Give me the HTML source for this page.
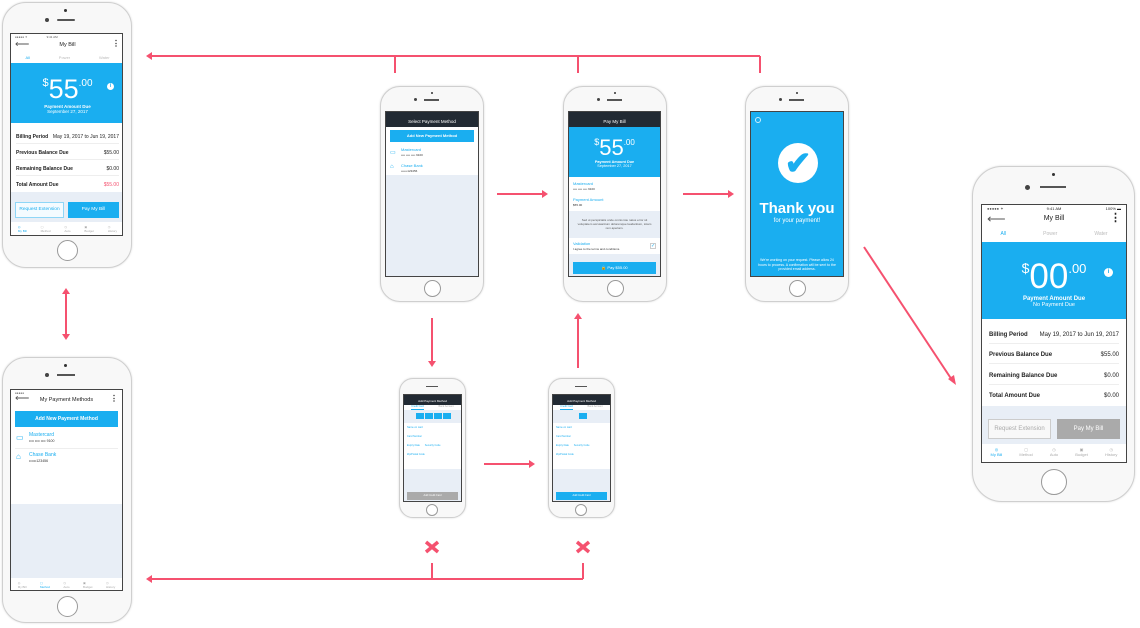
<!DOCTYPE html>
<html><head><meta charset="utf-8"><style>
*{margin:0;padding:0;box-sizing:border-box}
body{width:1140px;height:628px;background:#fff;position:relative;overflow:hidden;font-family:"Liberation Sans",sans-serif;color:#222}
.ph{position:absolute;border:1px solid #cfcfcf;background:#f8f8f8;box-shadow:0 0 2px rgba(0,0,0,.15)}
.sc{position:absolute;background:#fff;border:1px solid #444;overflow:hidden}
.hb{position:absolute;border:1px solid #999;border-radius:50%;background:#fff}
.abs{position:absolute}
.blue{background:#1aaef0}
.b{font-weight:bold}
.row{position:absolute;left:5px;right:5px;display:flex;justify-content:space-between;font-size:5px;border-bottom:1px solid #eee;padding-bottom:3px}
</style></head><body>

<svg class="abs" style="left:0;top:0" width="1140" height="628">
<g stroke="#f5516f" stroke-width="2" fill="none">
<path d="M150 56H760M395 56V73M578 56V73M760 56V73"/>
<path d="M66 292V336"/>
<path d="M497 194H543M683 194H729"/>
<path d="M432 318V363M578 368V318"/>
<path d="M484 464H530"/>
<path d="M150 579H583M432 563V579M583 563V579"/>
<path d="M864 247L952 380"/>
<path d="M426 542L438 552M438 542L426 552M577 542L589 552M589 542L577 552" stroke-width="3.5"/>
</g>
<g fill="#f5516f">
<path d="M146 56L152 52V60Z"/><path d="M146 579L152 575V583Z"/>
<path d="M66 288L62 294H70Z"/><path d="M66 340L62 334H70Z"/>
<path d="M548 194L542 190V198Z"/><path d="M734 194L728 190V198Z"/>
<path d="M432 367L428 361H436Z"/><path d="M578 313L574 319H582Z"/>
<path d="M535 464L529 460V468Z"/>
<path d="M956 385L948 379L954 375Z"/>
</g>
</svg>

<!-- Phone 1 top-left -->
<div class="ph" style="left:2px;top:2px;width:130px;height:266px;border-radius:24px"></div>
<div class="abs" style="left:64px;top:9px;width:3px;height:3px;border-radius:50%;background:#333"></div>
<div class="abs" style="left:45px;top:18px;width:4px;height:4px;border-radius:50%;background:#444"></div>
<div class="abs" style="left:57px;top:19px;width:18px;height:2px;background:#555;border-radius:1px"></div>
<div class="sc" style="left:10px;top:33px;width:113px;height:203px">
 <div class="abs" style="left:0;top:0;width:113px;height:203px">
  <div class="abs" style="left:4px;top:1px;font-size:3px;color:#555">●●●●● ✦ &nbsp;&nbsp;&nbsp;&nbsp;&nbsp;&nbsp;&nbsp;&nbsp;&nbsp;&nbsp;&nbsp;&nbsp;&nbsp;&nbsp;&nbsp;&nbsp;&nbsp;&nbsp;&nbsp;&nbsp;&nbsp; 9:41 AM</div>
  <div class="abs" style="left:4px;top:5px;font-size:10px;color:#555">⟵</div>
  <div class="abs" style="left:0;right:0;top:8px;text-align:center;font-size:5.5px">My Bill</div>
  <div class="abs" style="right:4px;top:5px;font-size:8px;font-weight:bold">⋮</div>
  <div class="abs" style="left:0;right:0;top:21px;display:flex;justify-content:space-around;font-size:4px;color:#bbb"><span style="color:#1aaef0">All</span><span>Power</span><span>Water</span></div>
  <div class="abs blue" style="left:0;right:0;top:29px;height:60px;color:#fff;text-align:center">
   <div style="font-size:27px;line-height:30px;margin-top:5px"><span style="font-size:11px;vertical-align:12px">$</span>55<span style="font-size:10px;vertical-align:12px">.00</span></div>
   <div style="font-size:4.5px;font-weight:bold">Payment Amount Due</div>
   <div style="font-size:4.5px">September 27, 2017</div>
   <div class="abs" style="right:10px;top:20px;width:7px;height:7px;border-radius:50%;background:#fff;color:#1aaef0;font-size:5px;line-height:7px;font-weight:bold">i</div>
  </div>
  <div class="row b" style="top:100px"><span>Billing Period</span><span style="font-weight:normal">May 19, 2017 to Jun 19, 2017</span></div>
  <div class="row b" style="top:116px"><span>Previous Balance Due</span><span style="font-weight:normal">$55.00</span></div>
  <div class="row b" style="top:132px"><span>Remaining Balance Due</span><span style="font-weight:normal">$0.00</span></div>
  <div class="row b" style="top:148px;border:0"><span>Total Amount Due</span><span style="font-weight:normal;color:#f5516f">$55.00</span></div>
  <div class="abs" style="left:0;right:0;top:158px;height:30px;background:#e8eef6"></div>
  <div class="abs" style="left:4px;top:168px;width:49px;height:16px;border:1px solid #8fd6f7;background:#f4fbff;color:#1aaef0;font-size:4.8px;text-align:center;line-height:14px">Request Extension</div>
  <div class="abs blue" style="left:57px;top:168px;width:51px;height:16px;color:#fff;font-size:4.8px;text-align:center;line-height:16px">Pay My Bill</div>
  <div class="abs" style="left:0;right:0;top:188px;height:15px;display:flex;justify-content:space-around;font-size:3px;color:#aaa;padding-top:3px"><span style="color:#1aaef0">◎<br>My Bill</span><span>▢<br>Method</span><span>◷<br>Auto</span><span>▣<br>Budget</span><span>◷<br>History</span></div>
 </div>
</div>
<div class="hb" style="left:57px;top:240px;width:21px;height:21px"></div>

<!-- Phone 2 bottom-left -->
<div class="ph" style="left:2px;top:357px;width:130px;height:266px;border-radius:24px"></div>
<div class="abs" style="left:64px;top:364px;width:3px;height:3px;border-radius:50%;background:#333"></div>
<div class="abs" style="left:45px;top:373px;width:4px;height:4px;border-radius:50%;background:#444"></div>
<div class="abs" style="left:57px;top:374px;width:18px;height:2px;background:#555"></div>
<div class="sc" style="left:10px;top:389px;width:113px;height:202px;background:#e8eef6">
  <div class="abs" style="left:0;right:0;top:0;height:14px;background:#fff"></div>
  <div class="abs" style="left:4px;top:1px;font-size:3px;color:#555">●●●●●</div>
  <div class="abs" style="left:4px;top:3px;font-size:10px;color:#555">⟵</div>
  <div class="abs" style="left:0;right:0;top:7px;text-align:center;font-size:5.5px">My Payment Methods</div>
  <div class="abs" style="right:4px;top:4px;font-size:8px;font-weight:bold">⋮</div>
  <div class="abs" style="left:0;right:0;top:14px;height:100px;background:#fff"></div>
  <div class="abs blue" style="left:4px;right:4px;top:21px;height:16px;color:#fff;font-size:5px;font-weight:bold;text-align:center;line-height:16px">Add New Payment Method</div>
  <div class="abs" style="left:5px;top:43px;font-size:8px;color:#1aaef0">▭</div>
  <div class="abs" style="left:18px;top:42px;font-size:5px;color:#1aaef0">Mastercard<br><span style="color:#333;font-size:3.5px">•••• •••• •••• 9100</span></div>
  <div class="abs" style="left:4px;right:4px;top:58px;height:1px;background:#eee"></div>
  <div class="abs" style="left:5px;top:62px;font-size:8px;color:#1aaef0">⌂</div>
  <div class="abs" style="left:18px;top:62px;font-size:5px;color:#1aaef0">Chase Bank<br><span style="color:#333;font-size:3.5px">••••••123456</span></div>
  <div class="abs" style="left:0;right:0;top:188px;height:14px;background:#fff;display:flex;justify-content:space-around;font-size:3px;color:#aaa;padding-top:3px"><span>◎<br>My Bill</span><span style="color:#1aaef0">▢<br>Method</span><span>◷<br>Auto</span><span>▣<br>Budget</span><span>◷<br>History</span></div>
</div>
<div class="hb" style="left:57px;top:596px;width:21px;height:21px"></div>

<!-- Phone select payment -->
<div class="ph" style="left:380px;top:86px;width:104px;height:216px;border-radius:20px"></div>
<div class="abs" style="left:431px;top:92px;width:2px;height:2px;border-radius:50%;background:#333"></div>
<div class="abs" style="left:414px;top:98px;width:3px;height:3px;border-radius:50%;background:#444"></div>
<div class="abs" style="left:424px;top:99px;width:15px;height:2px;background:#555"></div>
<div class="sc" style="left:385px;top:111px;width:94px;height:166px;background:#e8eef6">
  <div class="abs" style="left:0;right:0;top:0;height:15px;background:#222a33;color:#fff;font-size:4.5px;text-align:center;line-height:20px">Select Payment Method</div>
  <div class="abs" style="left:0;right:0;top:15px;height:48px;background:#fff"></div>
  <div class="abs blue" style="left:4px;right:4px;top:18px;height:12px;color:#fff;font-size:4px;font-weight:bold;text-align:center;line-height:12px">Add New Payment Method</div>
  <div class="abs" style="left:4px;top:37px;font-size:6px;color:#1aaef0">▭</div>
  <div class="abs" style="left:15px;top:35px;font-size:4px;color:#1aaef0">Mastercard<br><span style="color:#333;font-size:3px">•••• •••• •••• 9100</span></div>
  <div class="abs" style="left:4px;top:52px;font-size:6px;color:#1aaef0">⌂</div>
  <div class="abs" style="left:15px;top:51px;font-size:4px;color:#1aaef0">Chase Bank<br><span style="color:#333;font-size:3px">••••••123456</span></div>
</div>
<div class="hb" style="left:424px;top:280px;width:17px;height:17px"></div>

<!-- Phone pay my bill -->
<div class="ph" style="left:563px;top:86px;width:104px;height:216px;border-radius:20px"></div>
<div class="abs" style="left:614px;top:92px;width:2px;height:2px;border-radius:50%;background:#333"></div>
<div class="abs" style="left:597px;top:98px;width:3px;height:3px;border-radius:50%;background:#444"></div>
<div class="abs" style="left:607px;top:99px;width:15px;height:2px;background:#555"></div>
<div class="sc" style="left:568px;top:111px;width:93px;height:166px">
  <div class="abs" style="left:0;right:0;top:0;height:15px;background:#222a33;color:#fff;font-size:4.5px;text-align:center;line-height:20px">Pay My Bill</div>
  <div class="abs blue" style="left:0;right:0;top:15px;height:50px;color:#fff;text-align:center">
   <div style="font-size:22px;line-height:24px;margin-top:3px"><span style="font-size:9px;vertical-align:10px">$</span>55<span style="font-size:8px;vertical-align:10px">.00</span></div>
   <div style="font-size:3.8px;font-weight:bold">Payment Amount Due</div><div style="font-size:3.8px">September 27, 2017</div>
  </div>
  <div class="abs" style="left:4px;top:69px;font-size:4px;color:#1aaef0;line-height:5px">Mastercard<br><span style="color:#333;font-size:3px">•••• •••• •••• 9100</span></div>
  <div class="abs" style="left:4px;top:85px;font-size:4px;color:#1aaef0;line-height:5px">Payment Amount<br><span style="color:#333;font-size:3px">$55.00</span></div>
  <div class="abs" style="left:0;right:0;top:99px;height:27px;background:#e8eef6;font-size:3px;color:#555;text-align:center;padding:7px 6px 0">Sed ut perspiciatis unde omnis iste natus error sit voluptatem accusantium doloremque laudantium, totam rem aperiam.</div>
  <div class="abs" style="left:4px;top:129px;font-size:4px;color:#1aaef0;line-height:5px">Validation<br><span style="color:#333;font-size:3px">I agree to the terms and conditions.</span></div>
  <div class="abs" style="right:4px;top:131px;width:6px;height:6px;border:1px solid #ccc;color:#1aaef0;font-size:5px;line-height:5px">✓</div>
  <div class="abs" style="left:0;right:0;top:142px;height:24px;background:#e8eef6"></div>
  <div class="abs blue" style="left:4px;right:4px;top:150px;height:12px;color:#fff;font-size:4px;text-align:center;line-height:12px">🔒 Pay $55.00</div>
</div>
<div class="hb" style="left:607px;top:280px;width:17px;height:17px"></div>

<!-- Phone thank you -->
<div class="ph" style="left:745px;top:86px;width:104px;height:216px;border-radius:20px"></div>
<div class="abs" style="left:796px;top:92px;width:2px;height:2px;border-radius:50%;background:#333"></div>
<div class="abs" style="left:779px;top:98px;width:3px;height:3px;border-radius:50%;background:#444"></div>
<div class="abs" style="left:789px;top:99px;width:15px;height:2px;background:#555"></div>
<div class="sc blue" style="left:750px;top:111px;width:94px;height:166px;color:#fff;text-align:center">
  <div class="abs" style="left:4px;top:5px;width:6px;height:6px;border:1px solid #cdeefc;border-radius:50%"></div>
  <div class="abs" style="left:27px;top:31px;width:40px;height:40px;border-radius:50%;background:#fff;color:#1aaef0;font-size:32px;line-height:40px;font-weight:bold">✔</div>
  <div class="abs" style="left:0;right:0;top:88px;font-size:15px;font-weight:bold">Thank you</div>
  <div class="abs" style="left:0;right:0;top:106px;font-size:6px">for your payment!</div>
  <div class="abs" style="left:6px;right:6px;top:146px;font-size:3.5px;line-height:4.5px">We're working on your request. Please allow 24 hours to process. A confirmation will be sent to the provided email address.</div>
</div>
<div class="hb" style="left:789px;top:280px;width:17px;height:17px"></div>

<!-- Small phone 1 -->
<div class="ph" style="left:399px;top:378px;width:67px;height:140px;border-radius:14px"></div>
<div class="abs" style="left:426px;top:386px;width:12px;height:1px;background:#555"></div>
<div class="sc" style="left:403px;top:394px;width:59px;height:108px;background:#e8eef6">
  <div class="abs" style="left:0;right:0;top:0;height:10px;background:#222a33;color:#fff;font-size:3px;text-align:center;line-height:13px">Add Payment Method</div>
  <div class="abs" style="left:0;right:0;top:10px;height:5px;background:#fff;font-size:2.5px;color:#1aaef0;display:flex;justify-content:space-around"><span style="border-bottom:1px solid #1aaef0">Credit Card</span><span style="color:#aaa">Bank Account</span></div>
  <div class="abs" style="left:12px;top:18px;width:36px;height:6px;background:repeating-linear-gradient(90deg,#1aaef0 0 8px,#e8eef6 8px 9px)"></div>
  <div class="abs" style="left:0;right:0;top:28px;height:46px;background:#fff;font-size:2.5px;color:#1aaef0;padding:3px">Name on card<br><br><br>Card Number<br><br><br>Expiry Date &nbsp;&nbsp;&nbsp;&nbsp;&nbsp;&nbsp;Security Code<br><br><br>Zip/Postal Code</div>
  <div class="abs" style="left:3px;right:3px;top:97px;height:8px;background:#aaa;color:#fff;font-size:2.5px;text-align:center;line-height:8px">Add Credit Card</div>
</div>
<div class="hb" style="left:426px;top:504px;width:12px;height:12px"></div>

<!-- Small phone 2 -->
<div class="ph" style="left:548px;top:378px;width:67px;height:140px;border-radius:14px"></div>
<div class="abs" style="left:575px;top:386px;width:12px;height:1px;background:#555"></div>
<div class="sc" style="left:552px;top:394px;width:59px;height:108px;background:#e8eef6">
  <div class="abs" style="left:0;right:0;top:0;height:10px;background:#222a33;color:#fff;font-size:3px;text-align:center;line-height:13px">Add Payment Method</div>
  <div class="abs" style="left:0;right:0;top:10px;height:5px;background:#fff;font-size:2.5px;color:#1aaef0;display:flex;justify-content:space-around"><span style="border-bottom:1px solid #1aaef0">Credit Card</span><span style="color:#aaa">Bank Account</span></div>
  <div class="abs" style="left:26px;top:18px;width:8px;height:6px;background:#1aaef0"></div>
  <div class="abs" style="left:0;right:0;top:28px;height:46px;background:#fff;font-size:2.5px;color:#1aaef0;padding:3px">Name on card<br><br><br>Card Number<br><br><br>Expiry Date &nbsp;&nbsp;&nbsp;&nbsp;&nbsp;&nbsp;Security Code<br><br><br>Zip/Postal Code</div>
  <div class="abs blue" style="left:3px;right:3px;top:97px;height:8px;color:#fff;font-size:2.5px;text-align:center;line-height:8px">Add Credit Card</div>
</div>
<div class="hb" style="left:575px;top:504px;width:12px;height:12px"></div>

<!-- Right phone -->
<div class="ph" style="left:972px;top:166px;width:163px;height:336px;border-radius:30px"></div>
<div class="abs" style="left:1052px;top:173px;width:3px;height:3px;border-radius:50%;background:#333"></div>
<div class="abs" style="left:1025px;top:185px;width:5px;height:5px;border-radius:50%;background:#444"></div>
<div class="abs" style="left:1040px;top:186px;width:26px;height:2px;background:#555"></div>
<div class="sc" style="left:981px;top:204px;width:146px;height:259px">
  <div class="abs" style="left:5px;top:1px;font-size:4px;color:#555">●●●●● ✦</div>
  <div class="abs" style="left:0;right:0;top:1px;text-align:center;font-size:4px">9:41 AM</div>
  <div class="abs" style="right:5px;top:1px;font-size:4px">100% ▬</div>
  <div class="abs" style="left:5px;top:6px;font-size:13px;color:#555">⟵</div>
  <div class="abs" style="left:0;right:0;top:10px;text-align:center;font-size:7px">My Bill</div>
  <div class="abs" style="right:5px;top:6px;font-size:11px;font-weight:bold">⋮</div>
  <div class="abs" style="left:0;right:0;top:26px;display:flex;justify-content:space-around;font-size:5px;color:#bbb"><span style="color:#1aaef0">All</span><span>Power</span><span>Water</span></div>
  <div class="abs blue" style="left:0;right:0;top:37px;height:77px;color:#fff;text-align:center">
   <div style="font-size:35px;line-height:38px;margin-top:7px"><span style="font-size:14px;vertical-align:15px">$</span>00<span style="font-size:13px;vertical-align:15px">.00</span></div>
   <div style="font-size:6px;font-weight:bold">Payment Amount Due</div>
   <div style="font-size:5.5px">No Payment Due</div>
   <div class="abs" style="right:13px;top:26px;width:9px;height:9px;border-radius:50%;background:#fff;color:#1aaef0;font-size:6px;line-height:9px;font-weight:bold">i</div>
  </div>
  <div class="row b" style="top:127px;left:7px;right:7px;font-size:6px;padding-bottom:5px"><span>Billing Period</span><span style="font-weight:normal">May 19, 2017 to Jun 19, 2017</span></div>
  <div class="row b" style="top:147px;left:7px;right:7px;font-size:6px;padding-bottom:5px"><span>Previous Balance Due</span><span style="font-weight:normal">$55.00</span></div>
  <div class="row b" style="top:168px;left:7px;right:7px;font-size:6px;padding-bottom:5px"><span>Remaining Balance Due</span><span style="font-weight:normal">$0.00</span></div>
  <div class="row b" style="top:188px;left:7px;right:7px;font-size:6px;border:0"><span>Total Amount Due</span><span style="font-weight:normal">$0.00</span></div>
  <div class="abs" style="left:0;right:0;top:201px;height:38px;background:#e8eef6"></div>
  <div class="abs" style="left:6px;top:214px;width:63px;height:20px;border:1px solid #ccc;background:#f8f8f8;color:#aaa;font-size:6px;text-align:center;line-height:18px">Request Extension</div>
  <div class="abs" style="left:75px;top:214px;width:63px;height:20px;background:#aaa;color:#fff;font-size:6px;text-align:center;line-height:20px">Pay My Bill</div>
  <div class="abs" style="left:0;right:0;top:239px;height:20px;display:flex;justify-content:space-around;font-size:4px;color:#aaa;padding-top:3px;text-align:center"><span style="color:#1aaef0">◎<br>My Bill</span><span>▢<br>Method</span><span>◷<br>Auto</span><span>▣<br>Budget</span><span>◷<br>History</span></div>
</div>
<div class="hb" style="left:1041px;top:469px;width:26px;height:26px"></div>

</body></html>
